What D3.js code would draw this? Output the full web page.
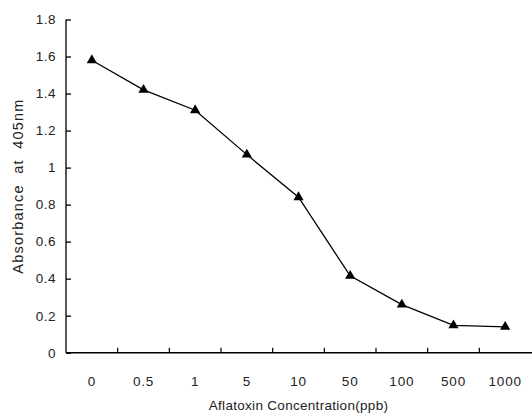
<!DOCTYPE html>
<html>
<head>
<meta charset="utf-8">
<script src="https://cdn.jsdelivr.net/npm/d3@7"></script>
<style>
body { margin: 0; background: #fff; }
text { font-family: "Liberation Sans", Arial, sans-serif; fill: #222; }
</style>
</head>
<body>
<script>
// data
var concentrations = ["0", "0.5", "1", "5", "10", "50", "100", "500", "1000"];
var absorbance = [1.58, 1.42, 1.31, 1.07, 0.84, 0.415, 0.26, 0.148, 0.14];
var yTicks = [0, 0.2, 0.4, 0.6, 0.8, 1, 1.2, 1.4, 1.6, 1.8];

var width = 532, height = 415;
var plotLeft = 66, plotRight = 531, plotTop = 19.5, plotBottom = 352.7;

var svg = d3.select("body").append("svg")
        .attr("width", width)
        .attr("height", height);

var x = d3.scaleBand().domain(concentrations).range([plotLeft, plotRight]);
var y = d3.scaleLinear().domain([0, 1.8]).range([plotBottom, plotTop]);

// y axis, ticks point inward
var yAxis = svg.append("g")
        .attr("transform", "translate(" + plotLeft + ",0)")
        .call(d3.axisLeft(y).tickValues(yTicks).tickSize(-5).tickPadding(15)
                .tickFormat(function(d) {return d3.format("~g")(d)}));
yAxis.selectAll("text").attr("font-size", 13.5).attr("letter-spacing", 0.5).attr("dx", "5");
yAxis.selectAll("line, path").attr("stroke", "#000").attr("stroke-width", 1.3);
yAxis.select(".domain").attr("d", "M0," + plotTop + "V" + plotBottom);

// x axis: line plus ticks at band edges
var xg = svg.append("g").attr("transform", "translate(0," + plotBottom + ")");
xg.append("line")
        .attr("x1", plotLeft).attr("x2", width)
        .attr("stroke", "#000").attr("stroke-width", 1.6);
xg.selectAll(".tk")
        .data(concentrations.slice(1))
        .enter().append("line")
        .attr("x1", function(d) {return x(d)})
        .attr("x2", function(d) {return x(d)})
        .attr("y1", 0).attr("y2", -5)
        .attr("stroke", "#000").attr("stroke-width", 1.2);
xg.selectAll("text")
        .data(concentrations)
        .enter().append("text")
        .text(function(d) {return d})
        .attr("x", function(d) {return x(d) + x.bandwidth() / 2})
        .attr("y", 33)
        .attr("text-anchor", "middle")
        .attr("letter-spacing", 0.8)
        .attr("font-size", 13.5);

var cx = function(d, i) {return x(concentrations[i]) + x.bandwidth() / 2};

svg.append("path")
        .datum(absorbance)
        .attr("fill", "none")
        .attr("stroke", "#000")
        .attr("stroke-width", 1.3)
        .attr("d", d3.line().x(cx).y(function(d) {return y(d)}));

svg.selectAll(".pt")
        .data(absorbance)
        .enter().append("path")
        .attr("class", "pt")
        .attr("d", d3.symbol().type(d3.symbolTriangle).size(45))
        .attr("transform", function(d, i) {return "translate(" + cx(d, i) + "," + y(d) + ")"})
        .attr("fill", "#000");

// axis titles
svg.append("text")
        .text("Aflatoxin Concentration(ppb)")
        .attr("x", (plotLeft + plotRight) / 2)
        .attr("y", 410)
        .attr("text-anchor", "middle")
        .attr("letter-spacing", 0.3)
        .attr("font-size", 13.5);

svg.append("text")
        .text("Absorbance  at  405nm")
        .style("white-space", "pre")
        .attr("transform", "translate(23," + ((plotTop + plotBottom) / 2) + ") rotate(-90)")
        .attr("text-anchor", "middle")
        .attr("letter-spacing", 1.2)
        .attr("font-size", 14.5);
</script>
</body>
</html>
